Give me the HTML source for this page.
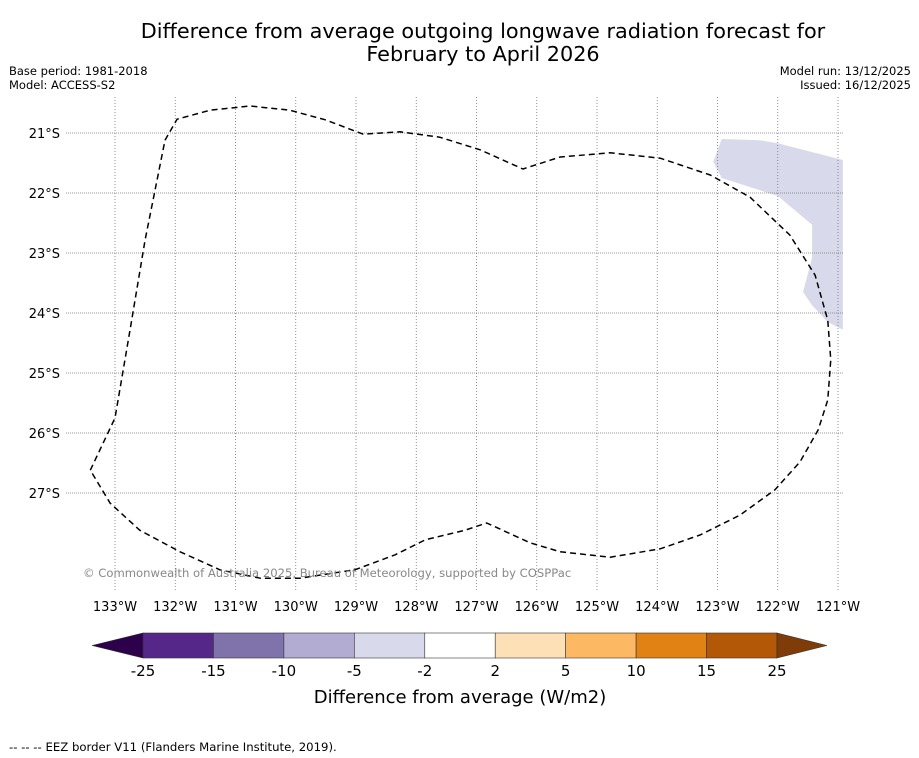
<!DOCTYPE html>
<html><head><meta charset="utf-8"><style>
body{margin:0;background:#fff;width:919px;height:758px;overflow:hidden;font-family:"DejaVu Sans","Liberation Sans",sans-serif;}
svg{display:block}
</style></head><body>
<svg id="chart" width="919" height="758" xmlns="http://www.w3.org/2000/svg" font-family="DejaVu Sans, Liberation Sans, sans-serif">
<rect width="919" height="758" fill="#fff"/>
<text x="483" y="38" font-size="20.8" text-anchor="middle">Difference from average outgoing longwave radiation forecast for</text>
<text x="483" y="61" font-size="20.8" text-anchor="middle">February to April 2026</text>
<text x="9" y="75" font-size="11.5">Base period: 1981-2018</text>
<text x="9" y="89" font-size="11.5">Model: ACCESS-S2</text>
<text x="911" y="75" font-size="11.5" text-anchor="end">Model run: 13/12/2025</text>
<text x="911" y="89" font-size="11.5" text-anchor="end">Issued: 16/12/2025</text>
<defs><clipPath id="plotclip"><rect x="66" y="97" width="777" height="493"/></clipPath></defs>
<g id="shade" clip-path="url(#plotclip)"></g>
<g id="grid"></g>
<g id="eez" clip-path="url(#plotclip)"></g>
<g id="axes"></g>
<text x="83" y="577" font-size="11.6" fill="#888">© Commonwealth of Australia 2025, Bureau of Meteorology, supported by COSPPac</text>
<g id="cbar"></g>
<text x="460" y="703" font-size="18" text-anchor="middle">Difference from average (W/m2)</text>
<text x="9" y="751" font-size="11.7">-- -- -- EEZ border V11 (Flanders Marine Institute, 2019).</text>
</svg>
<script>
const lonTicks=[133,132,131,130,129,128,127,126,125,124,123,122,121];
const latTicks=[21,22,23,24,25,26,27];
const eezLon=[133.41,133,132.75,132.5,132.17,131.97,131.42,130.76,130.1,129.51,128.88,128.27,127.61,126.94,126.23,125.61,124.78,123.95,123.12,122.46,121.8,121.38,121.17,121.12,121.17,121.33,121.63,122.05,122.63,123.29,123.95,124.78,125.61,126.11,126.83,127.19,127.85,128.35,129.02,129.93,130.59,131.26,131.92,132.59,133.08,133.41];
const eezLat=[26.62,25.75,24.28,22.78,21.12,20.77,20.62,20.55,20.62,20.78,21.02,20.98,21.07,21.28,21.6,21.4,21.33,21.42,21.7,22.07,22.7,23.37,24.12,24.78,25.45,25.95,26.48,26.95,27.37,27.7,27.93,28.07,27.98,27.83,27.5,27.62,27.78,28.03,28.28,28.42,28.42,28.28,27.98,27.62,27.17,26.62];
const shadeLon=[122.93,122.3,122.0,120.92,120.92,121.17,121.43,121.58,121.43,121.43,122.0,122.93,123.07];
const shadeLat=[21.1,21.12,21.17,21.45,24.28,24.15,23.87,23.65,23.08,22.53,22.05,21.75,21.48];
const cbLevels=[-25,-15,-10,-5,-2,2,5,10,15,25];
const cbColors=["#542788","#8073ac","#b2abd2","#d8daeb","#ffffff","#fee0b6","#fdb863","#e08214","#b35806"];
const cbUnder="#2d004b", cbOver="#7f3b08";
const NS="http://www.w3.org/2000/svg";
const xS=lon=>115+(133-lon)*60.25;
const yS=lat=>133+(lat-21)*60;
function mk(tag,attrs,parent){const e=document.createElementNS(NS,tag);for(const k in attrs)e.setAttribute(k,attrs[k]);parent.appendChild(e);return e;}
const grid=document.getElementById('grid'),axes=document.getElementById('axes');
lonTicks.forEach(l=>{
  const l1=mk('line',{x1:xS(l),x2:xS(l),y1:97,y2:590,stroke:'#777','stroke-width':0.8,'stroke-dasharray':'1,2'},grid);
  
  
  const t=mk('text',{x:xS(l),y:611,'font-size':13,'text-anchor':'middle'},axes);t.textContent=l+'°W';
  
  
});
latTicks.forEach(l=>{
  const l1=mk('line',{x1:66,x2:843,y1:yS(l),y2:yS(l),stroke:'#777','stroke-width':0.8,'stroke-dasharray':'1,1'},grid);
  
  
  const t=mk('text',{x:60,y:yS(l)+5,'font-size':13,'text-anchor':'end'},axes);t.textContent=l+'°S';
  
  
});
const sh=mk('polygon',{points:shadeLon.map((v,i)=>xS(v)+','+yS(shadeLat[i])).join(' '),fill:'#d8daeb'},document.getElementById('shade'));


const ez=mk('polyline',{points:eezLon.map((v,i)=>xS(v)+','+yS(eezLat[i])).join(' '),fill:'none',stroke:'#000','stroke-width':1.5,'stroke-dasharray':'6,4','stroke-linejoin':'round'},document.getElementById('eez'));


const cb=document.getElementById('cbar');
const cx0=143,cx1=777,cy0=633,cy1=658,n=cbColors.length,w=(cx1-cx0)/n;
const cbX=i=>cx0+i*w;
cbColors.forEach((c,i)=>{
  const r=mk('rect',{x:cbX(i),y:cy0,width:w,height:cy1-cy0,fill:c,stroke:'#333','stroke-width':0.6},cb);
  
  
});
const lt=mk('polygon',{points:`${cx0},${cy0} ${cx0},${cy1} 92,645.5`,fill:cbUnder,stroke:'#333','stroke-width':0.6},cb);


const rt=mk('polygon',{points:`${cx1},${cy0} ${cx1},${cy1} 827,645.5`,fill:cbOver,stroke:'#333','stroke-width':0.6},cb);


cbLevels.forEach((v,i)=>{
  const t=mk('text',{x:cbX(i),y:676,'font-size':15,'text-anchor':'middle'},cb);t.textContent=v;
  
  
});
</script>
</body></html>
